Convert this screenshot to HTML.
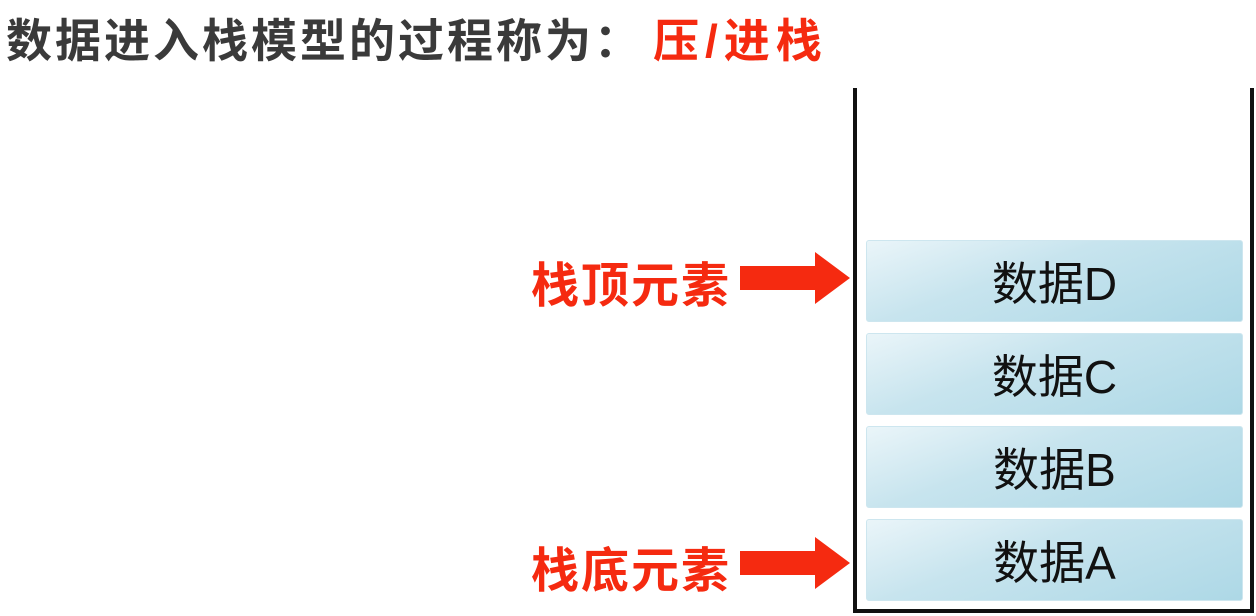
<!DOCTYPE html>
<html><head><meta charset="utf-8"><style>
body{margin:0;width:1256px;height:616px;background:#fff;position:relative;overflow:hidden;font-family:"Liberation Sans","Noto Sans CJK SC",sans-serif}
.t{position:absolute;left:6px;top:5px;font-size:46px;font-weight:bold;color:#3a3a3a;white-space:nowrap;letter-spacing:3px}
.t span{color:#f52a10;letter-spacing:6px;padding-left:10px}
.lbl{position:absolute;left:531px;font-size:48px;font-weight:bold;color:#f52a10;white-space:nowrap;letter-spacing:2px}
.box{position:absolute;left:866px;width:377px;height:82px;border-radius:3px;background:linear-gradient(160deg,#eaf5f9 0%,#c7e4ee 40%,#add8e6 100%);border:1px solid #cde6ef;box-sizing:border-box;display:flex;align-items:center;justify-content:center;font-size:46px;color:#111}
.ln{position:absolute;background:#111}
</style></head><body>
<div class="t">数据进入栈模型的过程称为：<span>压/进栈</span></div>
<div class="ln" style="left:853px;top:88px;width:4px;height:525px"></div>
<div class="ln" style="left:1250px;top:88px;width:4px;height:525px"></div>
<div class="ln" style="left:853px;top:609px;width:401px;height:4px"></div>
<div class="box" style="top:240px">数据D</div>
<div class="box" style="top:333px">数据C</div>
<div class="box" style="top:426px">数据B</div>
<div class="box" style="top:519px">数据A</div>
<div class="lbl" style="top:246px">栈顶元素</div>
<div class="lbl" style="top:531px">栈底元素</div>
<svg width="1256" height="616" style="position:absolute;left:0;top:0">
<polygon points="740,266 815,266 815,252 850,278 815,304 815,290 740,290" fill="#f52a10"/>
<polygon points="740,551 815,551 815,537 850,563 815,589 815,575 740,575" fill="#f52a10"/>
</svg>
</body></html>
